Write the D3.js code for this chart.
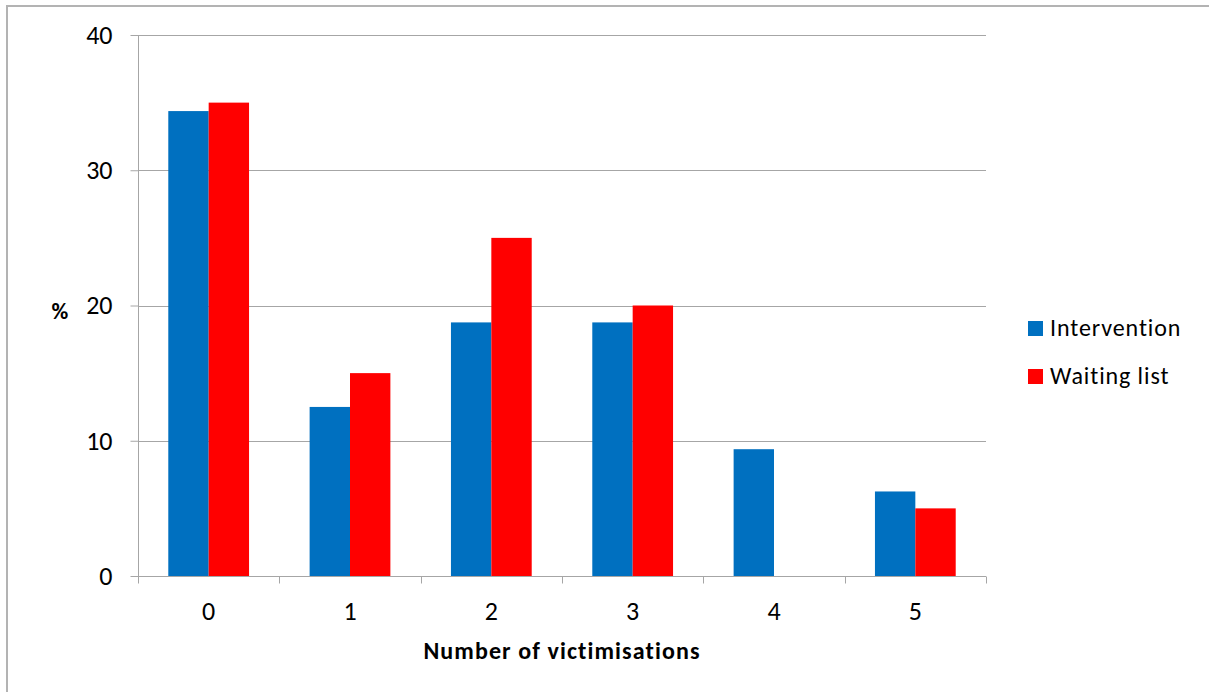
<!DOCTYPE html>
<html><head><meta charset="utf-8">
<script src="https://cdn.jsdelivr.net/npm/d3@7"></script>
<style>
body{margin:0;background:#fff;}
svg{display:block;font-family:Carlito,Calibri,Lato,"Open Sans",sans-serif;}
</style></head>
<body><svg id="c" width="1209" height="692"></svg>
<script>
const categories = ["0","1","2","3","4","5"];
const seriesNames = ["Intervention","Waiting list"];
const intervention = [34.375, 12.5, 18.75, 18.75, 9.375, 6.25];
const waitingList = [35, 15, 25, 20, 0, 5];
const yTicks = [0,10,20,30,40];
const colors = ["#0070C0","#FF0000"];

(function(){
const FF = "Carlito,Calibri,Lato,sans-serif";
const svg = d3.select("#c");
// outer border
svg.append("rect").attr("x",7).attr("y",6).attr("width",1215).attr("height",700)
  .attr("fill","none").attr("stroke","#b3b3b3").attr("stroke-width",2);

const pL=138, pR=986, pT=35, pB=576;
const x = d3.scaleBand().domain(categories).range([pL,pR]).paddingInner(0).paddingOuter(0);
const y = d3.scaleLinear().domain([0,40]).range([pB,pT]);
const inner = d3.scaleBand().domain(seriesNames).range([0, x.bandwidth()*0.5714]);
const offset = x.bandwidth()*(1-0.5714)/2;

// gridlines
svg.append("g").selectAll("line").data(yTicks.filter(d=>d>0)).join("line")
  .attr("x1",pL).attr("x2",pR).attr("y1",d=>Math.round(y(d))+0.5).attr("y2",d=>Math.round(y(d))+0.5)
  .attr("stroke","#a6a6a6").attr("stroke-width",1);

// bars
const data = categories.map((c,i)=>({c, vals:[intervention[i], waitingList[i]]}));
const g = svg.append("g");
data.forEach(d=>{
  d.vals.forEach((v,j)=>{
    if(v<=0) return;
    g.append("rect")
      .attr("x", x(d.c)+offset+inner(seriesNames[j]))
      .attr("y", y(v))
      .attr("width", inner.bandwidth())
      .attr("height", y(0)-y(v))
      .attr("fill", colors[j]);
  });
});

// y axis
const yAxis = d3.axisLeft(y).tickValues(yTicks).tickSize(8).tickPadding(18).tickFormat(d3.format("d"));
const ya = svg.append("g").attr("transform",`translate(${pL+0.5},0)`).call(yAxis);
ya.attr("font-family",FF).attr("font-size",26);
ya.select(".domain").attr("stroke","#a6a6a6").attr("d",`M0,${pT}V${pB}`);
ya.selectAll(".tick line").attr("stroke","#a6a6a6");
ya.selectAll(".tick text").attr("fill","#000");

// x axis
const xa = svg.append("g").attr("transform",`translate(0,${pB+0.5})`);
xa.append("line").attr("x1",pL).attr("x2",pR).attr("stroke","#a6a6a6");
const bounds = d3.range(categories.length+1).map(i=>pL+i*x.bandwidth());
xa.selectAll(".tk").data(bounds).join("line").attr("class","tk")
  .attr("x1",d=>Math.round(d)+0.5).attr("x2",d=>Math.round(d)+0.5).attr("y1",0).attr("y2",7)
  .attr("stroke","#a6a6a6");
xa.selectAll("text").data(categories).join("text")
  .attr("x",d=>x(d)+x.bandwidth()/2).attr("y",43)
  .attr("text-anchor","middle").attr("font-size",26).attr("fill","#000").text(d=>d);

// axis titles
svg.append("text").attr("x",562).attr("y",659).attr("text-anchor","middle")
  .attr("font-size",24).attr("font-weight","bold").attr("letter-spacing",1.1).text("Number of victimisations");
svg.append("text").attr("x",60).attr("y",319).attr("text-anchor","middle")
  .attr("font-size",23).attr("font-weight","bold").text("%");

// legend
const lg = svg.append("g");
seriesNames.forEach((s,i)=>{
  const yy = 321 + i*48;
  lg.append("rect").attr("x",1028).attr("y",yy).attr("width",15).attr("height",15).attr("fill",colors[i]);
  lg.append("text").attr("x",1050).attr("y",yy+15).attr("font-size",24).attr("letter-spacing",0.9).attr("fill","#000").text(s);
});
})();
</script></body></html>
